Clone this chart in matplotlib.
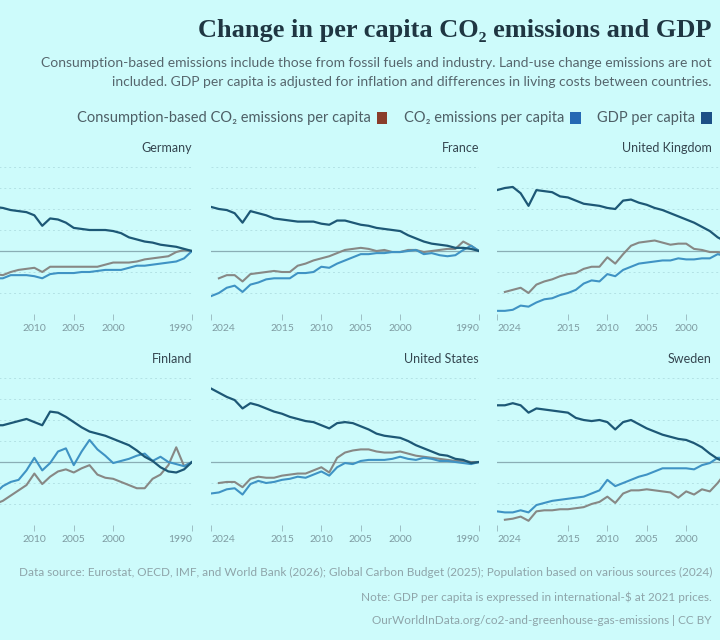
import numpy as np
import matplotlib
matplotlib.use("Agg")
import matplotlib.pyplot as plt
from matplotlib.patches import Rectangle

# change since 1990 in %, one value per year
years = np.arange(1990, 2025)
cons_years = np.arange(1990, 2024)   # consumption-based data stops in 2023

germany_gdp = [0, 2, 4, 5, 6, 8, 9, 11, 13, 17, 19, 20, 20, 20, 21, 22, 27, 30, 31, 24, 34, 37,
               38, 39, 41, 42, 44, 47, 48, 49, 44, 47, 48, 46, 45]
germany_co2 = [0, -7, -10, -11, -12, -13, -14, -14, -16, -18, -18, -18, -19, -20, -20, -21, -21, -21,
               -22, -26, -24, -23, -23, -23, -26, -26, -26, -27, -30, -35, -40, -37, -39, -45, -47]
germany_cons = [0, 1, -1, -5, -6, -7, -8, -10, -11, -11, -11, -13, -15, -15, -15, -15, -15, -15,
                -15, -20, -16, -17, -18, -20, -23, -22, -22, -23, -26, -30, -34, -32, -33, -38]

france_gdp = [0, 2, 3, 3, 5, 6, 7, 9, 12, 15, 19, 20, 21, 22, 24, 25, 27, 29, 29, 25, 26, 28,
              28, 28, 29, 30, 31, 34, 36, 38, 27, 36, 39, 40, 42]
france_co2 = [0, 5, 1, -4, -5, -4, -2, -3, 1, 0, -1, -1, -2, -2, -3, -3, -6, -9, -12, -16, -15,
              -20, -21, -21, -26, -26, -26, -27, -30, -32, -39, -33, -35, -40, -43]
france_cons = [0, 5, 9, 2, 2, 1, 0, -1, 1, 1, -1, -1, 1, 0, 2, 3, 2, 1, -2, -5, -7, -9, -12,
               -14, -20, -20, -19, -20, -21, -22, -29, -23, -23, -26]

uk_gdp = [0, -2, -2, 0, 4, 9, 13, 19, 23, 27, 30, 33, 36, 39, 41, 44, 46, 49, 48, 40, 41, 43,
          44, 45, 48, 51, 52, 56, 57, 58, 43, 55, 61, 60, 58]
uk_co2 = [0, 1, -1, -3, -4, -5, -3, -7, -7, -8, -8, -7, -9, -9, -10, -11, -12, -15, -18, -24,
          -22, -29, -28, -31, -37, -40, -42, -45, -46, -49, -53, -52, -56, -57, -57]
uk_cons = [0, -1, -2, -3, -3, -3, -1, -1, 1, 2, 7, 7, 6, 8, 10, 9, 8, 5, -3, -12, -6, -15,
           -15, -17, -21, -22, -24, -27, -29, -32, -40, -35, -37, -39]

finland_gdp = [0, -7, -10, -9, -5, 1, 5, 11, 16, 19, 22, 25, 27, 29, 33, 38, 43, 47, 48, 35,
               38, 41, 39, 37, 35, 35, 37, 40, 41, 42, 40, 43, 43, 41, 41]
finland_co2 = [0, -4, -2, 0, 5, 1, 8, 6, 3, 1, -1, 6, 12, 21, 10, -3, 13, 10, -1, -8, 4, -8,
               -17, -19, -23, -30, -26, -30, -28, -33, -40, -40, -45, -50, -52]
finland_cons = [0, -4, 14, -3, -12, -16, -25, -25, -22, -19, -16, -15, -12, -3, -6, -10, -7,
                -9, -14, -21, -11, -22, -27, -32, -37, -40, -37, -40, -38, -42, -47, -45, -48, -52]

us_gdp = [0, -1, 2, 3, 6, 7, 10, 13, 16, 20, 23, 24, 25, 27, 31, 34, 37, 38, 37, 32, 35, 38,
          39, 41, 43, 46, 48, 51, 54, 56, 51, 59, 62, 66, 70]
us_co2 = [0, -2, -1, 0, 1, 1, 3, 4, 2, 3, 5, 3, 2, 2, 2, 1, -2, -1, -5, -13, -9, -12, -15,
          -14, -16, -17, -19, -20, -18, -21, -31, -25, -26, -29, -30]
us_cons = [0, 0, 1, 1, 2, 3, 4, 5, 6, 8, 10, 9, 9, 10, 12, 12, 11, 9, 4, -10, -5, -8, -11,
           -11, -12, -13, -15, -15, -14, -16, -24, -19, -19, -20]

sweden_gdp = [0, -2, -4, -6, -3, 0, 3, 8, 14, 18, 21, 22, 24, 26, 29, 32, 36, 40, 38, 31, 38,
              40, 39, 40, 42, 47, 48, 49, 50, 51, 47, 54, 56, 54, 54]
sweden_co2 = [0, 1, 0, 1, 3, 4, 4, -1, -3, -7, -6, -6, -6, -6, -9, -12, -14, -17, -20, -23,
              -17, -27, -30, -33, -34, -35, -36, -37, -39, -41, -48, -46, -48, -48, -47]
sweden_cons = [0, -2, -4, -6, -8, -10, -20, -28, -26, -31, -28, -34, -29, -28, -27, -26, -27,
               -27, -30, -39, -33, -38, -40, -43, -44, -45, -45, -46, -46, -47, -56, -52, -54, -55]

# panels as they appear in the picture (mirrored layout)
panel_rows = [
    [("Germany", germany_gdp, germany_co2, germany_cons),
     ("France", france_gdp, france_co2, france_cons),
     ("United Kingdom", uk_gdp, uk_co2, uk_cons)],
    [("Finland", finland_gdp, finland_co2, finland_cons),
     ("United States", us_gdp, us_co2, us_cons),
     ("Sweden", sweden_gdp, sweden_co2, sweden_cons)],
]
x_ticks = [1990, 2000, 2005, 2010, 2015, 2024]
legend_labels = ["GDP per capita", "CO₂ emissions per capita",
                 "Consumption-based CO₂ emissions per capita"]

bg = "#cdfbfb"
c_gdp = "#1d5876"
c_co2 = "#3f93c4"
c_cons = "#878885"
sq_gdp = "#1c4f86"
sq_co2 = "#2569b4"
sq_cons = "#8a3d2b"

sans = ["Lato", "DejaVu Sans"]
plt.rcParams["font.family"] = sans

W, H = 720, 640
fig = plt.figure(figsize=(W / 100, H / 100), dpi=100, facecolor=bg)


def fx(px):
    return px / W


def fy(py):
    return 1 - py / H


col_left = [-76, 211, 497]
panel_w = 268
row_top = [167, 378]
panel_h = 147
px_per_year = panel_w / 34

for r, row in enumerate(panel_rows):
    for c, (name, gdp, co2, cons) in enumerate(row):
        ax = fig.add_axes([fx(col_left[c]), fy(row_top[r] + panel_h), fx(panel_w), panel_h / H])
        ax.set_facecolor("none")
        for s in ax.spines.values():
            s.set_visible(False)
        ax.set_xlim(2024, 1990)
        ax.set_ylim(-60, 80)
        for g in [-40, -20, 20, 40, 60, 80]:
            ax.axhline(g, color="#b3e2e5", lw=0.7, ls=(0, (2, 3)), zorder=0)
        ax.axhline(0, color="#8aaeb5", lw=0.9, zorder=1)
        ax.plot(cons_years, cons, color=c_cons, lw=1.5, zorder=2)
        ax.plot(years, co2, color=c_co2, lw=1.5, zorder=3)
        ax.plot(years, gdp, color=c_gdp, lw=1.6, zorder=4)
        ax.set_yticks([])
        ax.set_xticks(x_ticks)
        # only label ticks that land inside the picture
        labels = []
        for yr in x_ticks:
            xp = col_left[c] + (2024 - yr) * px_per_year
            if yr == 1990:
                inside = xp - 24 >= 0 and xp <= W
            elif yr == 2024:
                inside = xp >= 0 and xp + 24 <= W
            else:
                inside = xp - 12 >= 0 and xp + 12 <= W
            labels.append(str(yr) if inside else "")
        ax.set_xticklabels(labels)
        for yr, lab in zip(x_ticks, ax.get_xticklabels()):
            if yr == 1990:
                lab.set_ha("right")
            elif yr == 2024:
                lab.set_ha("left")
        ax.tick_params(axis="x", length=4, width=0.7, color="#9dbfc4", labelsize=7.5,
                       labelcolor="#7f9ca2", pad=3)
        # panel title, right-aligned on the 1990 side
        right_px = min(col_left[c] + panel_w, 712)
        fig.text(fx(right_px), fy(row_top[r] - 19), name, ha="right", va="center",
                 fontsize=9, color="#34454f")

# title, subtitle
fig.text(fx(712), fy(30), "Change in per capita CO₂ emissions and GDP", ha="right", va="center",
         fontsize=19, fontweight="bold", color="#1f3642",
         family=["Liberation Serif", "DejaVu Serif"])
fig.text(fx(712), fy(63), "Consumption-based emissions include those from fossil fuels and industry. "
         "Land-use change emissions are not", ha="right", va="center", fontsize=10, color="#56666d")
fig.text(fx(712), fy(82), "included. GDP per capita is adjusted for inflation and differences in "
         "living costs between countries.", ha="right", va="center", fontsize=10, color="#56666d")

# legend, laid out from the right edge (square sits right of its label, as in the picture)
renderer = fig.canvas.get_renderer()
x_right = 712
for lab, col in zip(legend_labels, [sq_gdp, sq_co2, sq_cons]):
    sq = 11
    fig.patches.append(Rectangle((fx(x_right - sq), fy(118 + sq / 2)), fx(sq), sq / H,
                                 transform=fig.transFigure, facecolor=col, edgecolor="none"))
    t = fig.text(fx(x_right - sq - 6), fy(118), lab, ha="right", va="center",
                 fontsize=10.5, color="#4e5f66")
    bb = t.get_window_extent(renderer)
    x_right = bb.x0 - 16

# footer
foot = "#8ea4a9"
fig.text(fx(712), fy(572), "Data source: Eurostat, OECD, IMF, and World Bank (2026); Global Carbon "
         "Budget (2025); Population based on various sources (2024)", ha="right", va="center",
         fontsize=8.5, color=foot)
fig.text(fx(712), fy(597), "Note: GDP per capita is expressed in international-$ at 2021 prices.",
         ha="right", va="center", fontsize=8.5, color=foot)
fig.text(fx(712), fy(620), "OurWorldInData.org/co2-and-greenhouse-gas-emissions | CC BY",
         ha="right", va="center", fontsize=8.5, color=foot)

fig.savefig("out.png", dpi=100, facecolor=bg)
